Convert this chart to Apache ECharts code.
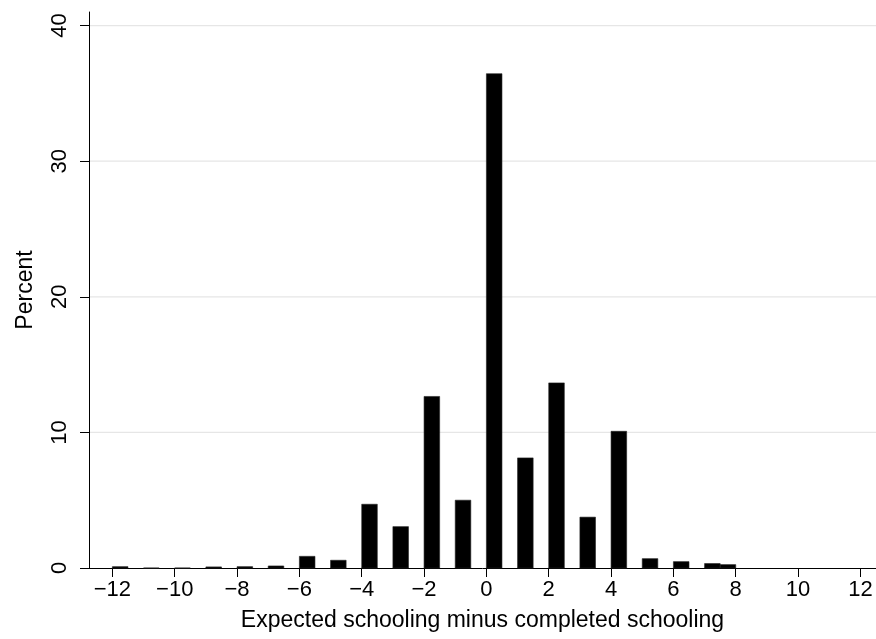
<!DOCTYPE html>
<html>
<head>
<meta charset="utf-8">
<script src="https://cdn.jsdelivr.net/npm/echarts@6/dist/echarts.min.js"></script>
<style>html,body{margin:0;padding:0;background:#fff;}#c{width:876px;height:639px;}</style>
</head>
<body>
<div id="c"></div>
<script>
// Histogram data: bin start, bin end, percent
const binStart = [-12, -11, -10, -9, -8, -7, -6, -5, -4, -3, -2, -1, 0, 1, 2, 3, 4, 5, 6, 7, 7.5];
const binEnd   = [-11.5, -10.5, -9.5, -8.5, -7.5, -6.5, -5.5, -4.5, -3.5, -2.5, -1.5, -0.5, 0.5, 1.5, 2.5, 3.5, 4.5, 5.5, 6.5, 7.5, 8];
const percent  = [0.1, 0, 0, 0.08, 0.1, 0.15, 0.86, 0.57, 4.7, 3.05, 12.65, 5.0, 36.45, 8.12, 13.65, 3.75, 10.08, 0.69, 0.47, 0.33, 0.25];
const xTicks = [-12, -10, -8, -6, -4, -2, 0, 2, 4, 6, 8, 10, 12];
const yTicks = [0, 10, 20, 30, 40];

const data = binStart.map((s, i) => [s, binEnd[i], percent[i]]);
const fmt = v => (v < 0 ? '\u2212' + Math.abs(v) : String(v));
const FONT = 'Liberation Sans, Arial, sans-serif';

const chart = echarts.init(document.getElementById('c'));
chart.setOption({
  backgroundColor: '#ffffff',
  animation: false,
  grid: { left: 89, right: 0, top: 12, bottom: 71, containLabel: false },
  xAxis: {
    type: 'value', min: -12.75, max: 12.5,
    name: 'Expected schooling minus completed schooling',
    nameLocation: 'middle', nameGap: 41,
    nameTextStyle: { fontFamily: FONT, fontSize: 23, color: '#000' },
    axisLine: { onZero: false, lineStyle: { color: '#000', width: 1 } },
    axisTick: { show: true, length: 9, customValues: xTicks, lineStyle: { color: '#000' } },
    axisLabel: { customValues: xTicks, formatter: fmt, fontFamily: FONT, fontSize: 22, color: '#000', margin: 11 },
    splitLine: { show: false }
  },
  yAxis: {
    type: 'value', min: 0, max: 41,
    name: 'Percent', nameLocation: 'middle', nameGap: 52, nameRotate: 90,
    nameTextStyle: { fontFamily: FONT, fontSize: 23, color: '#000' },
    axisLine: { show: true, onZero: false, lineStyle: { color: '#000', width: 1 } },
    axisTick: { show: true, length: 9, customValues: yTicks, lineStyle: { color: '#000' } },
    axisLabel: { customValues: yTicks, rotate: 90, fontFamily: FONT, fontSize: 22, color: '#000', margin: 18 },
    splitLine: { show: false }
  },
  series: [
    {
      type: 'custom',
      data: yTicks.filter(v => v > 0).map(v => [v]),
      renderItem: function (params, api) {
        const y = api.coord([0, api.value(0)])[1];
        const cs = params.coordSys;
        return { type: 'line', shape: { x1: cs.x + 1, y1: y, x2: cs.x + cs.width, y2: y },
                 style: { stroke: '#e6e6e6', lineWidth: 1.2 }, z2: 0 };
      },
      silent: true, z: 1
    },
    {
      type: 'custom',
      data: data,
      encode: { x: [0, 1], y: 2 },
      renderItem: function (params, api) {
        const p0 = api.coord([api.value(0), 0]);
        const p1 = api.coord([api.value(1), api.value(2)]);
        return {
          type: 'rect',
          shape: { x: p0[0], y: p1[1], width: p1[0] - p0[0], height: p0[1] - p1[1] },
          style: { fill: '#000', stroke: '#222', lineWidth: 0.6 }
        };
      },
      z: 2
    }
  ]
});
</script>
</body>
</html>
